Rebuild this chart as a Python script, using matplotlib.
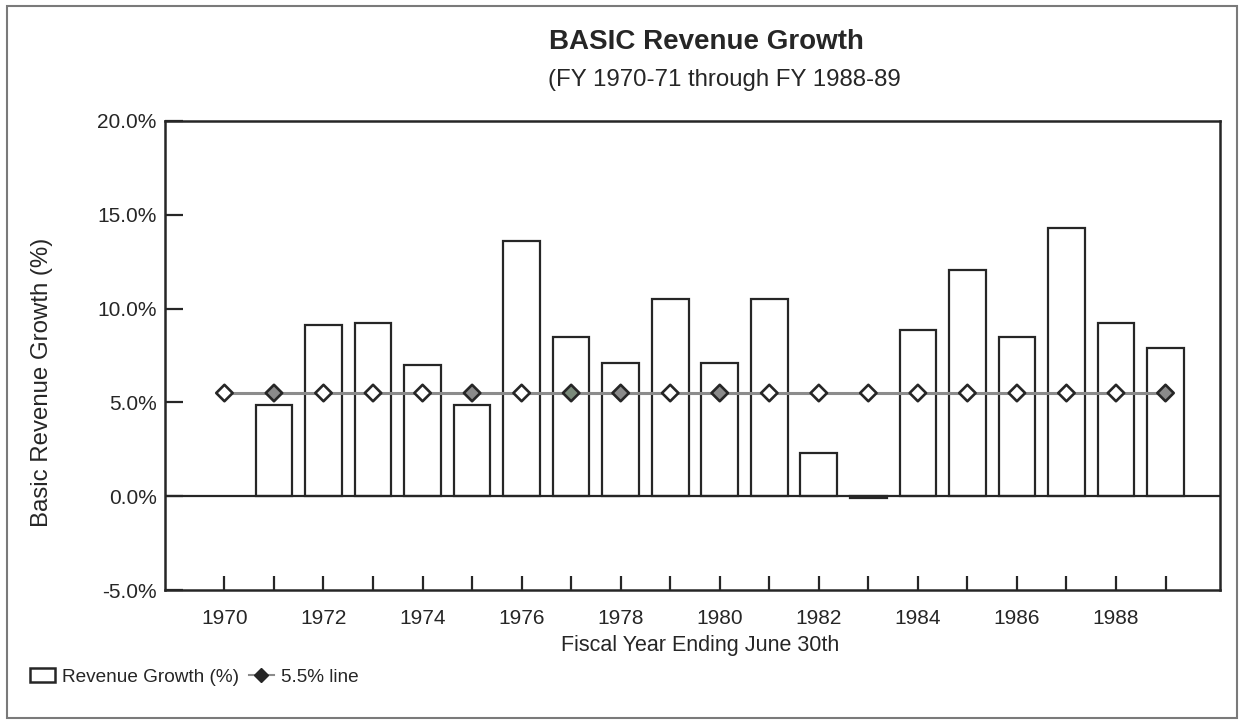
import numpy as np
import matplotlib
matplotlib.use("Agg")
from matplotlib import pyplot as plt
from matplotlib.patches import Patch, Rectangle
from matplotlib.lines import Line2D

plt.rcParams['font.family'] = ['Liberation Sans', 'DejaVu Sans']

# data
years = list(range(1970, 1990))
growth = [np.nan, 4.86, 9.11, 9.25, 6.98, 4.86, 13.6, 8.5, 7.08, 10.5,
          7.08, 10.53, 2.28, -0.12, 8.86, 12.07, 8.5, 14.29, 9.24, 7.9]
ref_line = [5.5] * len(years)
year_labels = [str(y) if y % 2 == 0 else "" for y in years]
y_ticks = [-5, 0, 5, 10, 15, 20]

# scanned marker fills (some came out grey)
marker_faces = ['white', '#8a8a8a', 'white', 'white', 'white', '#8a8a8a', 'white',
                '#7a8a7a', '#8a8a8a', 'white', '#8a8a8a', 'white', 'white', 'white',
                'white', 'white', 'white', 'white', 'white', '#8a8a8a']

ink = '#262626'
W, H = 1243, 721
fig = plt.figure(figsize=(W / 100, H / 100), dpi=100)
ax = fig.add_axes([165 / W, 1 - 590 / H, (1220 - 165) / W, (590 - 121) / H])

ax.bar(years, growth, width=0.74, facecolor='white', edgecolor=ink, linewidth=1.6, zorder=2)
ax.axhline(0, color=ink, lw=1.6, zorder=3)
ax.plot(years, ref_line, color='#8c8c8c', lw=2.2, zorder=4)
ax.scatter(years, ref_line, marker='D', s=70, c=marker_faces, edgecolors=ink,
           linewidths=1.9, zorder=5)

ax.set_xlim(1968.8, 1990.1)
ax.set_ylim(-5, 20)
ax.set_yticks(y_ticks)
ax.set_yticklabels([f"{v:.1f}%" for v in y_ticks])
ax.set_xticks(years)
ax.set_xticklabels(year_labels)

for s in ax.spines.values():
    s.set_color(ink)
    s.set_linewidth(1.8)

ax.tick_params(axis='y', direction='in', length=13, width=1.6, color=ink,
               labelsize=15, labelcolor=ink, pad=6)
ax.tick_params(axis='x', direction='in', length=10, width=1.6, color=ink,
               labelsize=15, labelcolor=ink, pad=14)

fig.text(706 / W, 1 - 42 / H, "BASIC Revenue Growth", ha='center', va='center',
         fontsize=20, fontweight='bold', color=ink)
fig.text(724 / W, 1 - 80 / H, "(FY 1970-71 through FY 1988-89", ha='center', va='center',
         fontsize=17.3, color=ink)
fig.text(42 / W, 1 - 382 / H, "Basic Revenue Growth (%)", rotation=90, ha='center',
         va='center', fontsize=17.3, color=ink)
fig.text(700 / W, 1 - 645 / H, "Fiscal Year Ending June 30th", ha='center', va='center',
         fontsize=15.5, color=ink)

handles = [Patch(facecolor='white', edgecolor=ink, linewidth=1.8),
           Line2D([], [], color='#8c8c8c', lw=1.5, marker='D', markersize=7,
                  markerfacecolor=ink, markeredgecolor=ink)]
fig.legend(handles, ["Revenue Growth (%)", "5.5% line"], loc='center left',
           bbox_to_anchor=(13 / W, 1 - 677 / H), ncol=2, frameon=False,
           fontsize=13.7, handlelength=1.3, handletextpad=0.4, columnspacing=0.5,
           labelcolor=ink)

# outer frame of the page
fig.patches.append(Rectangle((7 / W, 1 - 718 / H), (1237 - 7) / W, (718 - 6) / H,
                             transform=fig.transFigure, fill=False,
                             edgecolor='#7a7a7a', lw=1.5))

fig.savefig("out.png", dpi=100, facecolor='white')
